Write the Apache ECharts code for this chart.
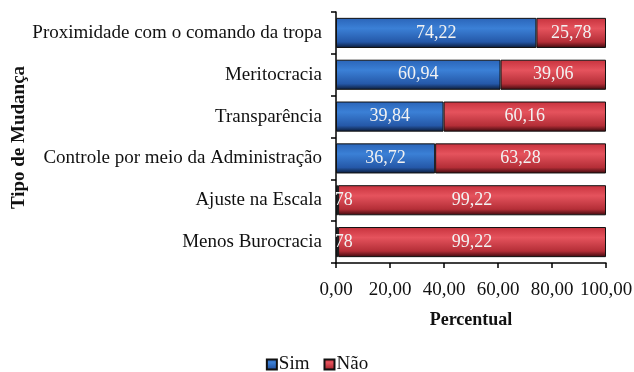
<!DOCTYPE html>
<html>
<head>
<meta charset="utf-8">
<script src="https://cdn.jsdelivr.net/npm/echarts@6/dist/echarts.min.js"></script>
<style>
  html, body { margin: 0; padding: 0; background: #ffffff; }
  #chart { width: 634px; height: 372px; }
</style>
</head>
<body>
<div id="chart"></div>
<script>
// Categories listed bottom to top (ECharts category y-axis starts at the bottom)
const categories = [
  'Menos Burocracia',
  'Ajuste na Escala',
  'Controle por meio da Administração',
  'Transparência',
  'Meritocracia',
  'Proximidade com o comando da tropa'
];
const simValues = [0.78, 0.78, 36.72, 39.84, 60.94, 74.22];
const naoValues = [99.22, 99.22, 63.28, 60.16, 39.06, 25.78];
const tickValues = [0, 20, 40, 60, 80, 100];

const fmt = v => v.toFixed(2).replace('.', ',');

function barGradient(top, mid, low, edge) {
  return new echarts.graphic.LinearGradient(0, 0, 0, 1, [
    { offset: 0, color: top },
    { offset: 0.35, color: mid },
    { offset: 0.8, color: low },
    { offset: 1, color: edge }
  ]);
}

const blueFill = barGradient('#2a64b8', '#3b80d6', '#2558a8', '#0b1a36');
const redFill = barGradient('#c7323d', '#e5535d', '#b42e37', '#3a080c');

const FONT = 'Liberation Serif';
const labelBase = {
  show: true,
  position: 'inside',
  color: '#f2f2f2',
  fontFamily: FONT,
  fontSize: 18
};

const chart = echarts.init(document.getElementById('chart'));
chart.setOption({
  animation: false,
  backgroundColor: '#ffffff',
  textStyle: { fontFamily: FONT },
  grid: { left: 336, right: 28, top: 12, bottom: 109, containLabel: false, outerBoundsMode: 'none' },
  legend: {
    data: ['Sim', 'Não'],
    bottom: -7,
    left: 'center',
    itemWidth: 10,
    itemHeight: 10,
    itemGap: 14,
    icon: 'rect',
    textStyle: { fontFamily: FONT, fontSize: 19, color: '#111', padding: [0, 0, 0, -3] }
  },
  xAxis: {
    type: 'value',
    min: tickValues[0],
    max: tickValues[tickValues.length - 1],
    interval: 20,
    name: 'Percentual',
    nameLocation: 'middle',
    nameGap: 48,
    nameTextStyle: { fontFamily: FONT, fontSize: 18, fontWeight: 'bold', color: '#111' },
    axisLine: { show: true, lineStyle: { color: '#000', width: 1.5 } },
    axisTick: { show: true, length: 5, lineStyle: { color: '#000', width: 1.5 } },
    axisLabel: {
      formatter: v => fmt(v),
      margin: 18,
      fontFamily: FONT,
      fontSize: 19,
      color: '#111'
    },
    splitLine: { show: false }
  },
  yAxis: {
    type: 'category',
    data: categories,
    name: 'Tipo de Mudança',
    nameLocation: 'middle',
    nameRotate: 90,
    nameGap: 306,
    nameTextStyle: { fontFamily: FONT, fontSize: 19, fontWeight: 'bold', color: '#111' },
    axisLine: { show: true, lineStyle: { color: '#000', width: 1.5 } },
    axisTick: { show: true, length: 5, lineStyle: { color: '#000', width: 1.5 } },
    axisLabel: { margin: 14, fontFamily: FONT, fontSize: 19, color: '#111' }
  },
  series: [
    {
      name: 'Sim',
      type: 'bar',
      stack: 'total',
      barCategoryGap: '28%',
      data: simValues,
      itemStyle: { color: blueFill, borderColor: '#111', borderWidth: 1 },
      label: Object.assign({}, labelBase, {
        // very narrow bars: the leading "0," falls outside the plot and is hidden
        formatter: p => {
          const t = fmt(p.value);
          return p.value < 5 ? '{h|' + t.slice(0, 2) + '}' + t.slice(2) : t;
        },
        rich: { h: { color: 'rgba(0,0,0,0)', fontFamily: FONT, fontSize: 18 } }
      }),
      z: 3
    },
    {
      name: 'Não',
      type: 'bar',
      stack: 'total',
      data: naoValues,
      itemStyle: { color: redFill, borderColor: '#111', borderWidth: 1 },
      label: Object.assign({}, labelBase, { formatter: p => fmt(p.value) }),
      z: 2
    }
  ]
});
</script>
</body>
</html>
